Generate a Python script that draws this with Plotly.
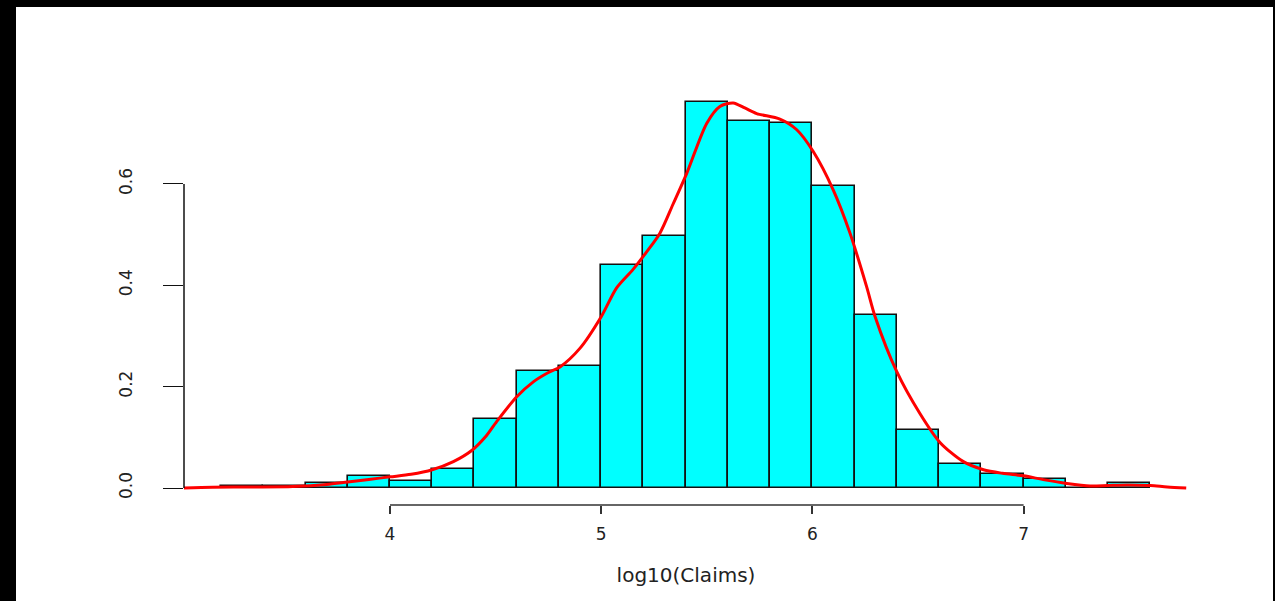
import plotly.graph_objects as go

# ---- data ----
bin_left = [3.2, 3.4, 3.6, 3.8, 4.0, 4.2, 4.4, 4.6, 4.8, 5.0, 5.2, 5.4,
            5.6, 5.8, 6.0, 6.2, 6.4, 6.6, 6.8, 7.0, 7.2, 7.4]
density_hist = [0.003, 0.003, 0.010, 0.024, 0.014, 0.037, 0.136, 0.231, 0.241,
                0.440, 0.497, 0.762, 0.724, 0.720, 0.596, 0.341, 0.114, 0.048,
                0.028, 0.017, 0.0, 0.009]
bin_width = 0.2

kde_x = [3.02, 3.16, 3.35, 3.54, 3.70, 3.80, 3.90, 4.00, 4.10, 4.20, 4.30, 4.39,
         4.45, 4.505, 4.60, 4.68, 4.75, 4.805, 4.90, 5.00, 5.073, 5.152, 5.215,
         5.278, 5.34, 5.405, 5.50, 5.562, 5.625, 5.68, 5.736, 5.846, 5.926, 6.004,
         6.099, 6.178, 6.257, 6.297, 6.399, 6.509, 6.604, 6.715, 6.81, 6.90, 7.00,
         7.10, 7.205, 7.315, 7.40, 7.488, 7.60, 7.68, 7.77]
kde_y = [0.000, 0.0014, 0.002, 0.003, 0.007, 0.012, 0.017, 0.022, 0.027, 0.036,
         0.052, 0.075, 0.100, 0.131, 0.180, 0.210, 0.228, 0.239, 0.276, 0.338,
         0.395, 0.432, 0.466, 0.503, 0.560, 0.621, 0.720, 0.753, 0.760, 0.750,
         0.739, 0.728, 0.707, 0.664, 0.588, 0.503, 0.397, 0.338, 0.230, 0.147,
         0.090, 0.052, 0.036, 0.029, 0.024, 0.016, 0.009, 0.004, 0.005, 0.006,
         0.005, 0.002, 0.000]

x_ticks = [4, 5, 6, 7]
y_ticks = [0.0, 0.2, 0.4, 0.6]
y_ticklabels = ["0.0", "0.2", "0.4", "0.6"]
x_title = "log10(Claims)"

# ---- layout geometry (pixels) ----
W, H = 1275, 601
plot_l, plot_r, plot_t, plot_b = 184, 1188, 60, 505
px_per_x = 211.2
px_per_y = 506.7
x_at_4 = 390
y_at_0 = 488

x_lo = 4 + (plot_l - x_at_4) / px_per_x
x_hi = 4 + (plot_r - x_at_4) / px_per_x
y_lo = -(plot_b - y_at_0) / px_per_y
y_hi = (y_at_0 - plot_t) / px_per_y

pw = plot_r - plot_l
ph = plot_b - plot_t


def paper_x(px):
    return (px - plot_l) / pw


def paper_y(py):
    return (plot_b - py) / ph


centers = [b + bin_width / 2 for b in bin_left]

fig = go.Figure()
fig.add_trace(go.Bar(
    x=centers, y=density_hist, width=bin_width,
    marker=dict(color="#00FFFF", line=dict(color="#111111", width=1.6)),
    hoverinfo="x+y",
))
fig.add_trace(go.Scatter(
    x=kde_x, y=kde_y, mode="lines",
    line=dict(color="#FF0000", width=3, shape="spline", smoothing=0.8),
))

font_family = "DejaVu Sans, Liberation Sans, Arial, sans-serif"
font_color = "#222222"

shapes = [
    # white page area inside black frame
    dict(type="rect", xref="paper", yref="paper", layer="below",
         x0=paper_x(16), x1=paper_x(1273), y0=paper_y(601), y1=paper_y(7),
         fillcolor="white", line=dict(width=0)),
    # R-style x axis line spanning tick range
    dict(type="line", xref="x", yref="y domain", x0=min(x_ticks), x1=max(x_ticks),
         y0=0, y1=0, line=dict(color="#333333", width=1.5)),
    # R-style y axis line spanning tick range
    dict(type="line", xref="x domain", yref="y", x0=0, x1=0,
         y0=min(y_ticks), y1=max(y_ticks), line=dict(color="#111111", width=1.5)),
]

fig.update_layout(
    width=W, height=H,
    paper_bgcolor="black", plot_bgcolor="white",
    margin=dict(l=plot_l, r=W - plot_r, t=plot_t, b=H - plot_b, autoexpand=False),
    showlegend=False,
    bargap=0,
    shapes=shapes,
    font=dict(family=font_family, color=font_color),
    xaxis=dict(range=[x_lo, x_hi], tickvals=x_ticks, ticks="outside", ticklen=8,
               tickwidth=1.5, tickcolor="#333333", showgrid=False, zeroline=False,
               showline=False,
               tickfont=dict(size=17, family=font_family, color=font_color),
               ticklabelstandoff=6,
               title=dict(text=x_title, standoff=24,
                          font=dict(size=20, family=font_family, color=font_color))),
    yaxis=dict(range=[y_lo, y_hi], tickvals=y_ticks, ticktext=y_ticklabels,
               ticks="outside", ticklen=20, tickwidth=1.3, tickcolor="#111111",
               showgrid=False, zeroline=False, showline=False, tickangle=-90,
               tickfont=dict(size=17, family=font_family, color=font_color),
               ticklabelstandoff=24),
)

fig.write_html("out.html",
               config={"displayModeBar": False},
               post_script="document.body.style.margin='0';document.body.style.padding='0';")
